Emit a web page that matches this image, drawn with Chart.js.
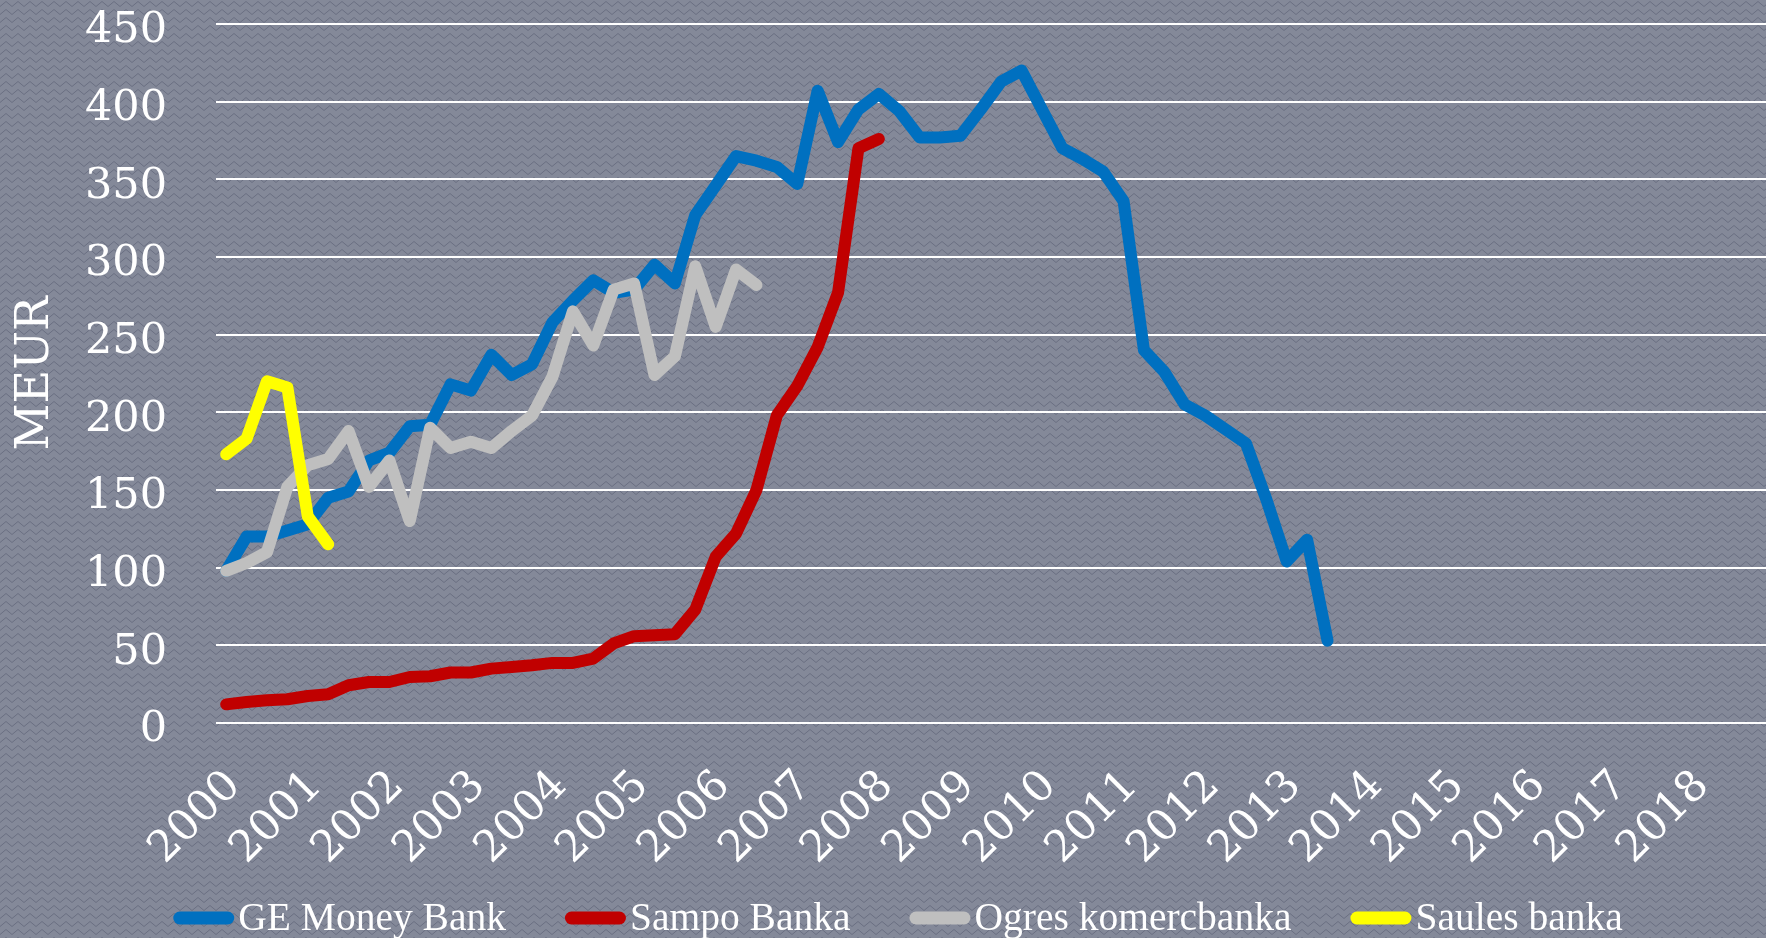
<!DOCTYPE html>
<html>
<head>
<meta charset="utf-8">
<script src="https://cdn.jsdelivr.net/npm/chart.js@4.4.0/dist/chart.umd.min.js"></script>
<style>
    html, body { margin: 0; padding: 0; background: #7f8494; }
    #wrap { width: 1766px; height: 938px; }
</style>
</head>
<body>
<div id="wrap"><canvas id="chart"></canvas></div>
<script>
// quarterly values, MEUR, starting 2000 Q1
const years = [2000, 2001, 2002, 2003, 2004, 2005, 2006, 2007, 2008, 2009,
    2010, 2011, 2012, 2013, 2014, 2015, 2016, 2017, 2018];

const geMoneyBank = [98, 120, 120, 124, 128, 145, 149, 169, 174, 191,
    192, 218, 214, 237, 224, 231, 258, 272, 285, 277,
    279, 295, 283, 327, 346, 365, 362, 358, 347, 407,
    374, 395, 405, 394, 377, 377, 378, 395, 413, 420,
    395, 370, 363, 355, 336, 240, 226, 205, 198, 189,
    180, 144, 104, 118, 53];

const sampoBanka = [12, 13.5, 14.6, 15.3, 17.4, 18.5, 24.3, 26.4, 26.4, 29.6,
    30.1, 32.5, 32.5, 35, 36, 37.2, 38.7, 38.7, 41.5, 51.2,
    55.9, 56.5, 57.2, 73, 107, 122, 150, 198, 217, 242,
    277, 370, 376];

const ogresKomercbanka = [98, 103, 110, 152, 166, 170, 188, 152, 169, 130,
    190, 177, 181, 177, 188, 198, 223, 265, 243, 279,
    283, 224, 236, 294, 255, 292, 282];

const saulesBanka = [173, 183, 220, 216, 133, 115];

const quarters = [];
years.forEach((y) => {
    for (let q = 1; q <= 4; q++) quarters.push(y + ' Q' + q);
});

function makePattern(ctx) {
    const tile = document.createElement('canvas');
    tile.width = 12;
    tile.height = 8;
    const t = tile.getContext('2d');
    t.fillStyle = '#848999';
    t.fillRect(0, 0, 12, 8);
    t.strokeStyle = '#6a6f82';
    t.lineWidth = 1;
    t.beginPath();
    t.moveTo(0, 6.5);
    t.lineTo(6, 1.5);
    t.lineTo(12, 6.5);
    t.stroke();
    return ctx.createPattern(tile, 'repeat');
}

const backgroundPattern = {
    id: 'backgroundPattern',
    beforeDraw(chart) {
        const ctx = chart.ctx;
        ctx.save();
        ctx.fillStyle = makePattern(ctx);
        ctx.fillRect(0, 0, chart.width, chart.height);
        ctx.restore();
    }
};

// legend drawn by hand: short rounded bar right against the label, like the office original
const lineLegend = {
    id: 'lineLegend',
    afterDraw(chart) {
        const ctx = chart.ctx;
        const datasets = chart.data.datasets;
        const symW = 61, symH = 13, textGap = 4, itemGap = 59;
        ctx.save();
        ctx.font = '39.5px "Liberation Serif"';
        const widths = datasets.map((ds) => symW + textGap + ctx.measureText(ds.label).width);
        const total = widths.reduce((a, b) => a + b, 0) + itemGap * (datasets.length - 1);
        let x = chart.width / 2 + 15 - total / 2;
        const cy = 918;
        datasets.forEach((ds, i) => {
            ctx.fillStyle = ds.borderColor;
            ctx.beginPath();
            ctx.roundRect(x, cy - symH / 2, symW, symH, symH / 2);
            ctx.fill();
            ctx.fillStyle = '#ffffff';
            ctx.textBaseline = 'alphabetic';
            ctx.textAlign = 'left';
            ctx.fillText(ds.label, x + symW + textGap, 930);
            x += widths[i] + itemGap;
        });
        ctx.restore();
    }
};

function series(label, data, color, order) {
    return {
        label: label,
        data: data,
        borderColor: color,
        backgroundColor: color,
        borderWidth: 12,
        borderCapStyle: 'round',
        borderJoinStyle: 'round',
        pointRadius: 0,
        tension: 0,
        fill: false,
        order: order,
    };
}

const tickFont = { family: 'DejaVu Serif', size: 43 };

new Chart(document.getElementById('chart'), {
    type: 'line',
    data: {
        labels: quarters,
        datasets: [
            series('GE Money Bank', geMoneyBank, '#0070c0', 4),
            series('Sampo Banka', sampoBanka, '#c00000', 3),
            series('Ogres komercbanka', ogresKomercbanka, '#bfbfbf', 2),
            series('Saules banka', saulesBanka, '#ffff00', 1),
        ],
    },
    options: {
        responsive: true,
        maintainAspectRatio: false,
        animation: false,
        layout: {
            padding: { top: 24, right: 0, bottom: 0, left: 0 },
        },
        scales: {
            x: {
                offset: true,
                grid: { display: false },
                border: { display: false },
                ticks: {
                    autoSkip: false,
                    minRotation: 45,
                    maxRotation: 45,
                    padding: 30,
                    labelOffset: 8,
                    color: '#ffffff',
                    font: tickFont,
                    callback: function (value, index) {
                        return index % 4 === 0 ? String(years[index / 4]) : '';
                    },
                },
                afterFit: function (scale) {
                    scale.height = 215;
                    scale.paddingLeft = 0;
                    scale.paddingRight = 0;
                },
            },
            y: {
                min: 0,
                max: 450,
                grid: { color: '#ffffff', lineWidth: 2, drawTicks: false },
                border: { display: false },
                ticks: {
                    stepSize: 50,
                    padding: 49,
                    labelOffset: 7,
                    color: '#ffffff',
                    font: tickFont,
                },
                title: {
                    display: true,
                    text: 'MEUR',
                    color: '#ffffff',
                    font: { family: 'DejaVu Serif', size: 46 },
                    padding: { top: 8, bottom: 0 },
                },
                afterFit: function (scale) {
                    scale.width = 216;
                    scale.paddingTop = 0;
                    scale.paddingBottom = 0;
                },
            },
        },
        plugins: {
            legend: { display: false },
            tooltip: { enabled: false },
        },
    },
    plugins: [backgroundPattern, lineLegend],
});
</script>
</body>
</html>
